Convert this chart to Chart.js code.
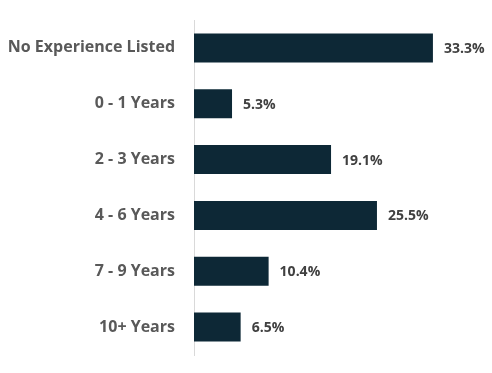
<!DOCTYPE html>
<html><head><meta charset="utf-8">
<script src="https://cdn.jsdelivr.net/npm/chart.js@4/dist/chart.umd.min.js"></script>
<style>html,body{margin:0;padding:0;background:#fff}#wrap{width:492px;height:373px}</style>
</head><body><div id="wrap"><canvas id="c"></canvas></div>
<script>
const categories = ["No Experience Listed","0 - 1 Years","2 - 3 Years","4 - 6 Years","7 - 9 Years","10+ Years"];
const values = [33.3, 5.3, 19.1, 25.5, 10.4, 6.5];
const valueLabels = ["33.3%","5.3%","19.1%","25.5%","10.4%","6.5%"];

const valuePlugin = {
  id: 'valueLabels',
  afterDatasetsDraw(chart) {
    const ctx = chart.ctx;
    const meta = chart.getDatasetMeta(0);
    ctx.save();
    ctx.font = 'bold 14px "Open Sans"';
    ctx.fillStyle = '#404040';
    ctx.textAlign = 'left';
    ctx.textBaseline = 'middle';
    meta.data.forEach((bar, i) => {
      ctx.fillText(valueLabels[i], bar.x + 11, bar.y + 1);
    });
    ctx.restore();
  }
};

new Chart(document.getElementById('c'), {
  type: 'bar',
  data: { labels: categories, datasets: [{ data: values, backgroundColor: '#0d2836', barPercentage: 0.52, categoryPercentage: 1.0 }] },
  options: {
    indexAxis: 'y',
    responsive: true, maintainAspectRatio: false, animation: false,
    layout: { padding: { top: 20, bottom: 18, left: 0, right: 11 } },
    plugins: { legend: { display: false }, tooltip: { enabled: false } },
    scales: {
      x: { display: false, min: 0, max: 40 },
      y: {
        afterFit(s) { s.width = 194; s.paddingTop = 0; s.paddingBottom = 0; },
        grid: { display: false, drawTicks: false },
        border: { display: true, color: '#d9d9d9', width: 1 },
        ticks: { color: '#595959', font: { family: 'Open Sans', weight: 'bold', size: 16 }, padding: 19 }
      }
    }
  },
  plugins: [valuePlugin]
});
</script></body></html>
